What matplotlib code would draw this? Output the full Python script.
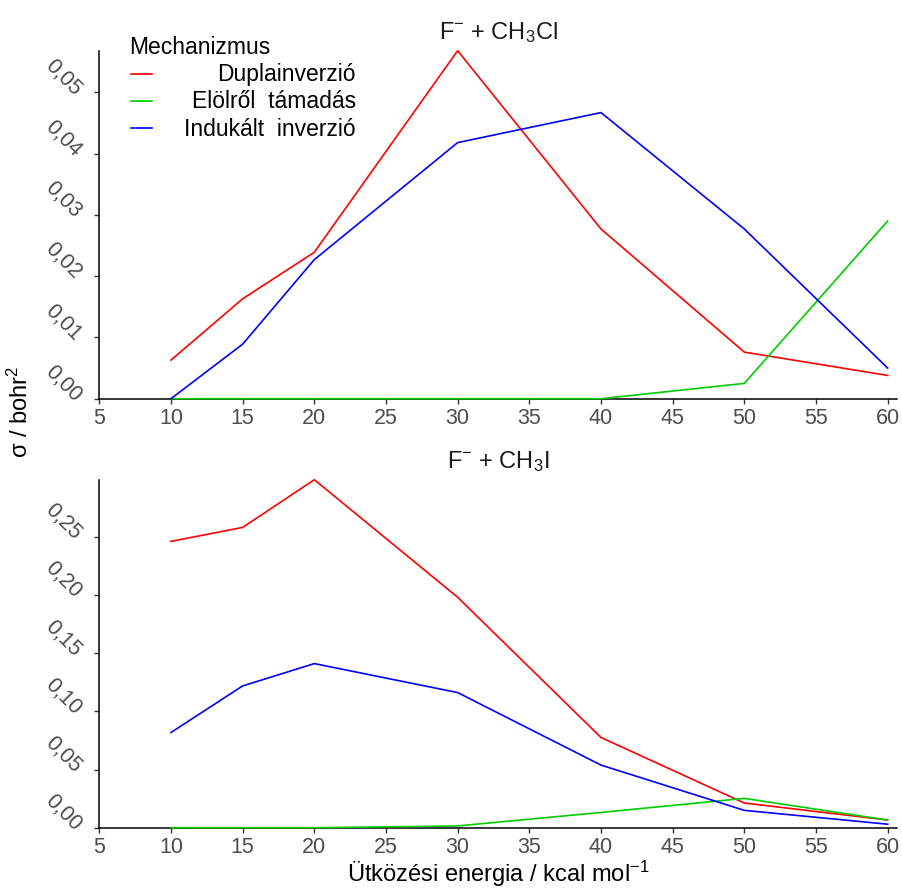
import matplotlib
matplotlib.use("Agg")
import matplotlib.pyplot as plt
from matplotlib.ticker import FuncFormatter, MultipleLocator
from matplotlib.lines import Line2D

plt.rcParams['font.family'] = ['Liberation Sans', 'DejaVu Sans']
plt.rcParams['mathtext.fontset'] = 'custom'
plt.rcParams['mathtext.rm'] = 'Liberation Sans'
plt.rcParams['mathtext.it'] = 'Liberation Sans:italic'
plt.rcParams['mathtext.bf'] = 'Liberation Sans:bold'

# ---- data ----
energy = [10, 15, 20, 30, 40, 50, 60]
mechanisms = ["Duplainverzió", "Elölről  támadás", "Indukált  inverzió"]
colors = ["#FF0000", "#00CD00", "#0000FF"]

# F- + CH3Cl
cl_dupla = [0.0063, 0.0163, 0.0239, 0.0568, 0.0277, 0.0076, 0.0038]
cl_elol = [0.0, 0.0, 0.0, 0.0, 0.0, 0.0025, 0.0290]
cl_indukalt = [0.0, 0.0089, 0.0227, 0.0418, 0.0467, 0.0277, 0.0050]

# F- + CH3I
i_dupla = [0.246, 0.258, 0.299, 0.198, 0.0775, 0.0212, 0.0066]
i_elol = [0.0, 0.0, 0.0, 0.0015, 0.0131, 0.0252, 0.0066]
i_indukalt = [0.0818, 0.1218, 0.141, 0.1161, 0.0538, 0.0149, 0.0030]

titles = [r"F$^{-}$ + CH$_3$Cl", r"F$^{-}$ + CH$_3$I"]
xlabel = r"Ütközési energia / kcal mol$^{-1}$"
ylabel = r"σ / bohr$^2$"

W, H = 902, 890
fig = plt.figure(figsize=(W / 100, H / 100), dpi=100)

def fx(px):
    return px / W

def fy(py):
    return 1 - py / H

ax1 = fig.add_axes([fx(99.3), fy(398.7), fx(896.7) - fx(99.3), fy(50.7) - fy(398.7)])
ax2 = fig.add_axes([fx(99.3), fy(827.7), fx(896.7) - fx(99.3), fy(479.7) - fy(827.7)])

panels = [
    (ax1, [cl_dupla, cl_elol, cl_indukalt], 0.01, max(cl_dupla)),
    (ax2, [i_dupla, i_elol, i_indukalt], 0.05, max(i_dupla)),
]

fmt = FuncFormatter(lambda v, p: f"{v:.2f}".replace(".", ","))

for (ax, series, ystep, ytop), title in zip(panels, titles):
    for s, c in zip(series, colors):
        ax.plot(energy, s, color=c, lw=1.2, clip_on=False, zorder=3)
    ax.set_xlim(5, 60.63)
    ax.set_ylim(0, ytop)
    ax.xaxis.set_major_locator(MultipleLocator(5))
    ax.yaxis.set_major_locator(MultipleLocator(ystep))
    ax.yaxis.set_major_formatter(fmt)
    for sp in ["top", "right"]:
        ax.spines[sp].set_visible(False)
    for sp in ["left", "bottom"]:
        ax.spines[sp].set_linewidth(1.1)
        ax.spines[sp].set_color("black")
        ax.spines[sp].set_zorder(2)
    ax.tick_params(axis="both", direction="out", length=3.4, width=1.0,
                   color="#333333", labelcolor="#4D4D4D", labelsize=15.5)
    ax.tick_params(axis="x", pad=3.0)
    ax.tick_params(axis="y", pad=12.0)
    ax.set_title(title, fontsize=17, color="#1A1A1A", pad=8)
    for lab in ax.get_yticklabels():
        lab.set_rotation(-45)
        lab.set_rotation_mode("anchor")
        lab.set_ha("right")
        lab.set_va("center")

fig.text(fx(498), fy(882), xlabel, ha="center", va="baseline", fontsize=17, color="black")
fig.text(fx(20), fy(412), ylabel, ha="center", va="center", rotation=90, fontsize=17, color="black")

# legend (manual, right-aligned labels)
fig.text(fx(129.5), fy(54), "Mechanizmus", ha="left", va="baseline", fontsize=16.5, color="black")
leg_y = [74, 100.7, 128.3]
for lab, c, y in zip(mechanisms, colors, leg_y):
    fig.add_artist(Line2D([fx(131), fx(152)], [fy(y), fy(y)], color=c, lw=1.2,
                          transform=fig.transFigure))
    fig.text(fx(356), fy(y + 7.2), lab, ha="right", va="baseline", fontsize=16.5, color="black")

fig.savefig("out.png", dpi=100)
